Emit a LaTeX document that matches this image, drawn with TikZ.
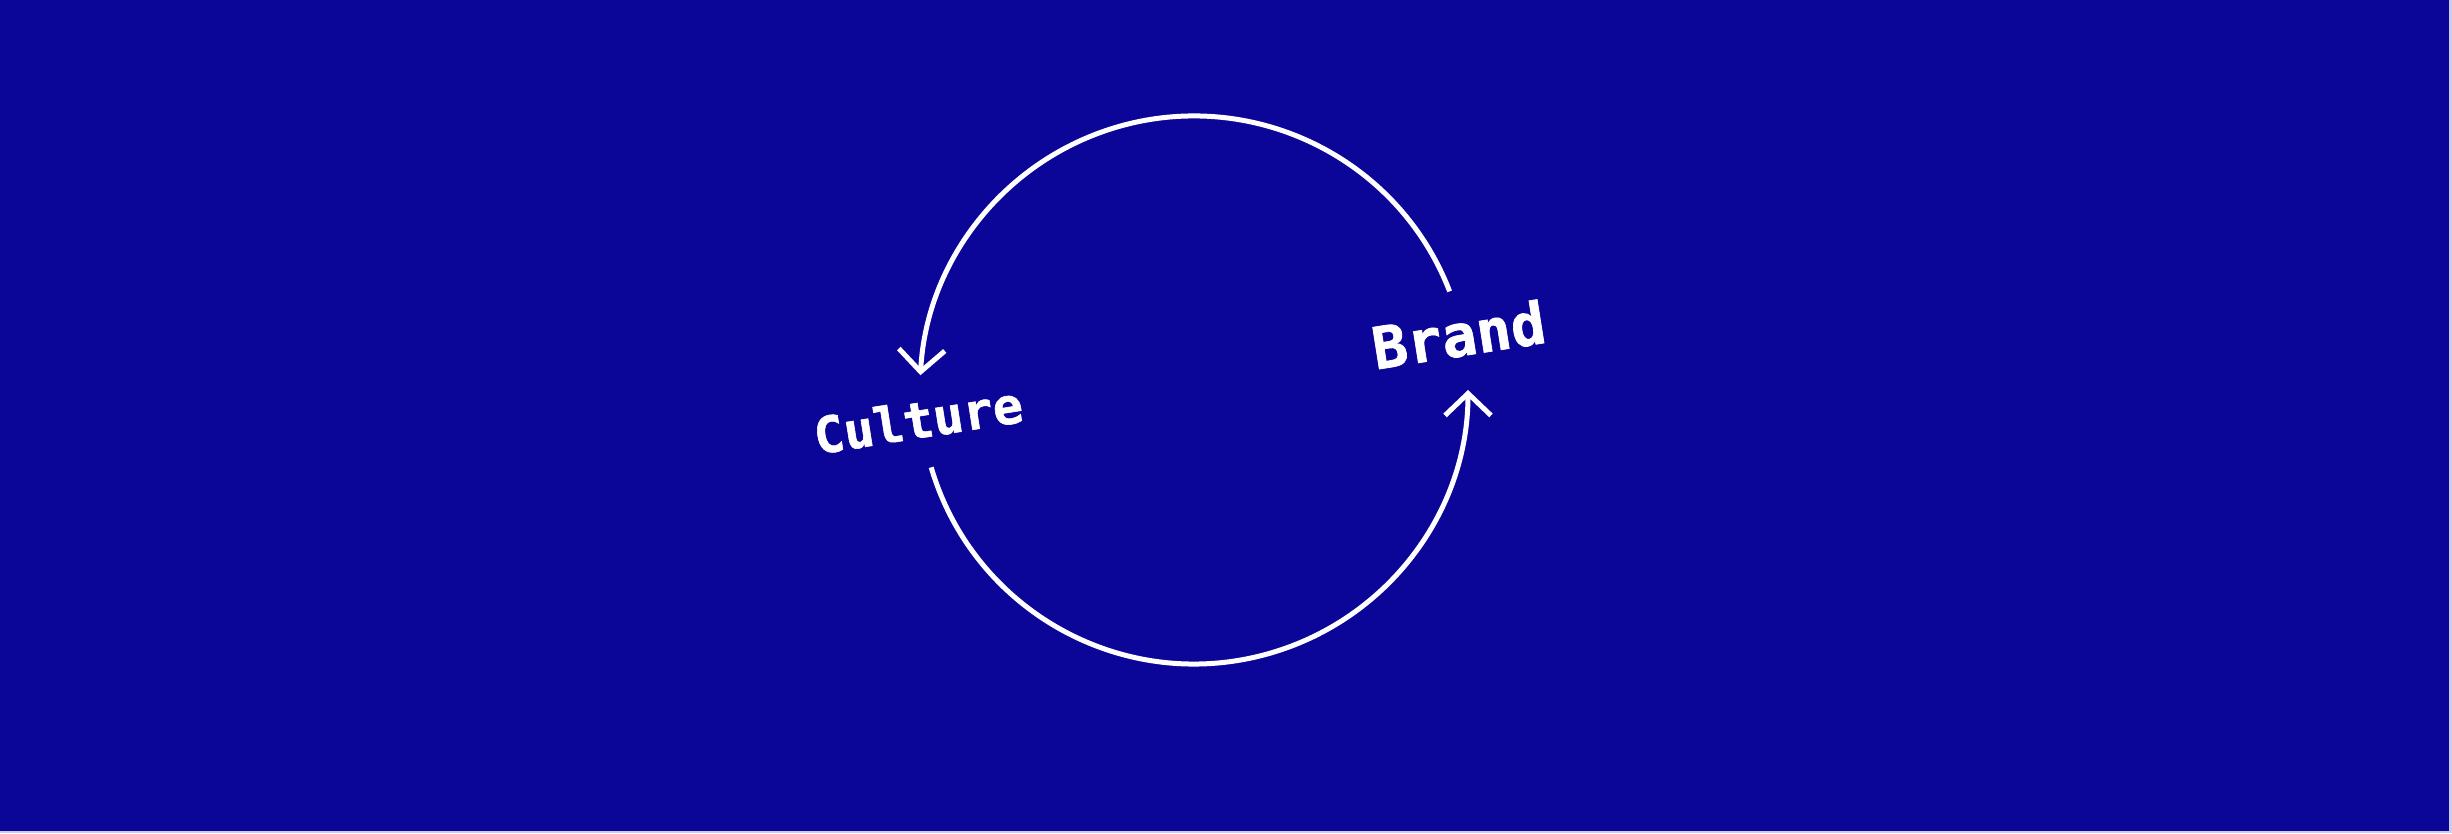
\documentclass[tikz,border=0pt]{standalone}
\usepackage{fontspec}
\newfontfamily\wordfont{DejaVu Sans Mono}[BoldFeatures={FakeBold=1.2}]
\usetikzlibrary{arrows.meta}
\definecolor{bgblue}{RGB}{12,6,152}
\definecolor{edgecol}{RGB}{205,205,235}
\begin{document}
\begin{tikzpicture}[x=1pt,y=1pt,
  loopline/.style={draw=white, line width=5pt, -{Straight Barb[length=22pt,width=46pt,sharp]}},
  word/.style={text=white, inner sep=0pt, anchor=base, rotate=9}]
\fill[edgecol] (0,0) rectangle (2452,833);
\fill[bgblue] (0,2) rectangle (2449,833);
\useasboundingbox (0,0) rectangle (2452,833);
\coordinate (O) at (1194,443);
\node[word, font=\wordfont\bfseries\fontsize{50}{60}\selectfont] (culture) at (921,395) {Culture};
\node[word, font=\wordfont\bfseries\fontsize{58}{70}\selectfont] (brand) at (1462,477) {Brand};
\coordinate (s1) at ([shift={(O)}]21.1:274);
\coordinate (s2) at ([shift={(O)}]196.4:274);
\draw[loopline] (s1) arc[start angle=21.1, end angle=176.9, radius=274];
\draw[loopline] (s2) arc[start angle=196.4, end angle=360, radius=274];
\end{tikzpicture}
\end{document}
